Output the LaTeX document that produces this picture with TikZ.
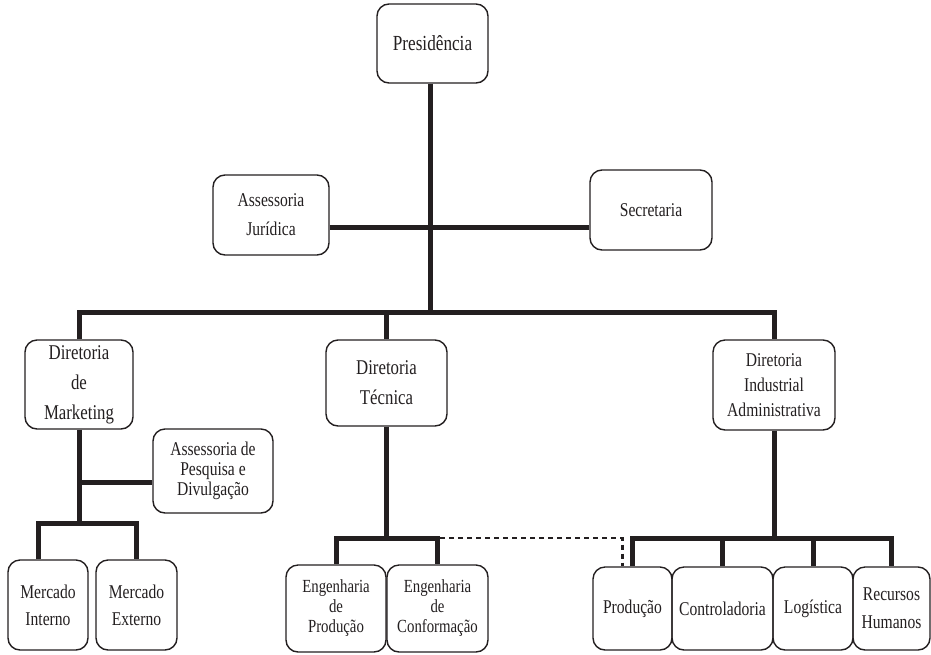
\documentclass[tikz,border=0pt]{standalone}
\usepackage{fontspec}
\setmainfont{Liberation Serif}[FakeStretch=0.8]
\usepackage{tikz}
\usetikzlibrary{calc,positioning}
\definecolor{ink}{HTML}{231F20}
\newcommand\lsp[1]{\fontsize{19.5}{#1}\selectfont}

\begin{document}
\begin{tikzpicture}[x=1pt,y=-1pt,
  box/.style={draw=ink,line width=1.4pt,rounded corners=12pt,align=center,inner sep=0pt,text=ink,font=\lsp{20}},
  bus/.style={draw=ink,line width=5pt},
  link/.style={draw=ink,line width=2.4pt,dash pattern=on 5pt off 4pt}]
\useasboundingbox (0,0) rectangle (931,654);
% topo
\node[box,minimum width=111pt,minimum height=79pt,font=\fontsize{21.5}{22}\selectfont] (pres) at (432.5,43.5) {Presidência};
\node[box,minimum width=116pt,minimum height=80pt,font=\lsp{29}] (jur) at (271,215) {Assessoria\\Jurídica};
\node[box,minimum width=122pt,minimum height=80pt] (sec) at (651,210) {Secretaria};
% diretorias
\node[box,minimum width=108pt,minimum height=89pt,font=\fontsize{21}{30}\selectfont] (mkt) at (79,384.5) {Diretoria\\de\\Marketing};
\node[box,minimum width=121pt,minimum height=86pt,font=\fontsize{21}{30}\selectfont] (tec) at (386.5,383) {Diretoria\\Técnica};
\node[box,minimum width=122pt,minimum height=90pt,font=\lsp{25}] (ind) at (774,385) {Diretoria\\Industrial\\Administrativa};
\node[box,minimum width=120pt,minimum height=84pt] (pesq) at (213,471) {Assessoria de\\Pesquisa e\\Divulgação};
% base
\node[box,minimum width=80pt,minimum height=90pt,font=\lsp{27}] (mi) at (48,605) {Mercado\\Interno};
\node[box,minimum width=81pt,minimum height=90pt,font=\lsp{27}] (me) at (136.5,605) {Mercado\\Externo};
\node[box,minimum width=100pt,minimum height=87pt,font=\fontsize{18.5}{20}\selectfont] (engp) at (336,608.5) {Engenharia\\de\\Produção};
\node[box,minimum width=101pt,minimum height=87pt,font=\fontsize{18.5}{20}\selectfont] (engc) at (437.5,608.5) {Engenharia\\de\\Conformação};
\node[box,minimum width=79pt,minimum height=83pt] (prod) at (632.5,608.5) {Produção};
\node[box,minimum width=101pt,minimum height=83pt] (ctrl) at (722.5,608.5) {Controladoria};
\node[box,minimum width=80pt,minimum height=83pt] (log) at (813,608.5) {Logística};
\node[box,minimum width=77pt,minimum height=83pt,font=\lsp{28}] (rh) at (891.5,608.5) {Recursos\\Humanos};
% ligacoes
\coordinate (hj) at (430,227);\coordinate (topbus) at (430,312);
\coordinate (mbus) at (79,523);\coordinate (hp) at (79,482);
\coordinate (tbus) at (386.5,538);\coordinate (ibus) at (774,538);
\draw[bus] (pres.south -| hj) -- (topbus);
\draw[bus] (hj -| jur.east) -- (hj -| sec.west);
\draw[bus] (mkt.north) |- (topbus) -| (ind.north);
\draw[bus] (tec.north) -- (tec.north |- topbus);
\draw[bus] (mkt.south) -- (mbus);\draw[bus] (hp) -- (hp -| pesq.west);
\draw[bus] ($(mi.north)+(-10,0)$) |- (mbus) -| (me.north);
\draw[bus] (tec.south) -- (tbus);\draw[bus] (engp.north) |- (tbus) -| (engc.north);
\draw[bus] (ind.south) -- (ibus);\draw[bus] (prod.north) |- (ibus) -| (rh.north);
\draw[bus] (ctrl.north) -- (ctrl.north |- ibus);\draw[bus] (log.north) -- (log.north |- ibus);
\draw[link] ($(engc.north |- tbus)+(2.5,0)$) -| ($(prod.north)+(-10,0)$);
\end{tikzpicture}
\end{document}
